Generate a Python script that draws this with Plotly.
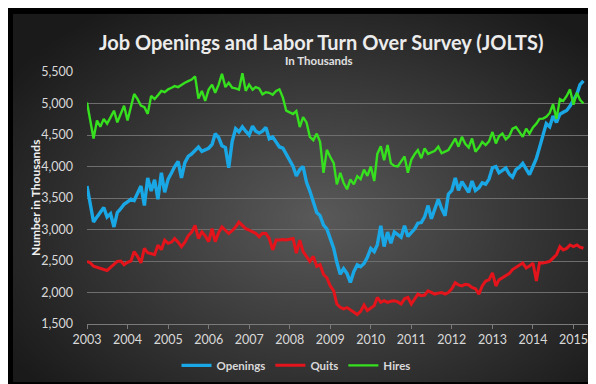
import base64, struct, zlib
import numpy as np
import pandas as pd
import plotly.graph_objects as go

# ---- data (thousands), monthly from Jan 2003 ----
openings = [
    3690, 3350, 3120, 3200, 3280, 3350, 3200, 3250, 3040, 3270, 3330, 3400,
    3440, 3480, 3460, 3590, 3690, 3380, 3820, 3610, 3790, 3480, 3900, 3590,
    3800, 3900, 4000, 4080, 3820, 4060, 4160, 4200, 4260, 4310, 4240, 4270,
    4290, 4350, 4520, 4460, 4330, 4300, 3980, 4400, 4600, 4550, 4630, 4560,
    4500, 4640, 4560, 4530, 4560, 4620, 4440, 4470, 4380, 4310, 4290, 4200,
    4100, 4000, 3850, 3950, 4000, 3750, 3610, 3450, 3270, 3220, 3070, 3010,
    2850, 2700, 2480, 2290, 2380, 2300, 2160, 2330, 2440, 2410, 2460, 2560,
    2700, 2650, 2760, 3060, 2730, 2960, 2780, 2960, 2920, 2880, 3060, 2890,
    2950, 3010, 3100, 3110, 3200, 3380, 3170, 3330, 3480, 3330, 3220, 3560,
    3620, 3820, 3620, 3760, 3680, 3590, 3770, 3620, 3660, 3740, 3720, 3800,
    3980, 4000, 3900, 3940, 3976, 3880, 3830, 3950, 3990, 4050, 3950, 3870,
    4000, 4130, 4300, 4520, 4680, 4630, 4800, 4700, 4830, 4860, 4890, 4960,
    5050, 5150, 5300, 5360,
]
quits = [
    2494, 2470, 2416, 2400, 2380, 2360, 2349, 2400, 2442, 2494, 2500, 2440,
    2480, 2500, 2650, 2572, 2470, 2700, 2630, 2620, 2600, 2750, 2680, 2830,
    2780, 2800, 2858, 2800, 2728, 2800, 2900, 2960, 3066, 2858, 2962, 2900,
    2806, 3014, 2806, 2950, 3040, 2988, 2936, 2980, 3040, 3118, 3060, 3014,
    2990, 2962, 2940, 2884, 2940, 2936, 2858, 2676, 2832, 2832, 2840, 2832,
    2840, 2858, 2624, 2830, 2650, 2560, 2494, 2572, 2416, 2442, 2286, 2234,
    2104, 2026, 1818, 1766, 1740, 1760, 1720, 1688, 1650, 1700, 1800, 1714,
    1760, 1792, 1922, 1844, 1870, 1844, 1860, 1870, 1850, 1818, 1900, 1922,
    1818, 1900, 1974, 1950, 1960, 2026, 2000, 1974, 1990, 2000, 1974, 2000,
    2060, 2156, 2120, 2104, 2130, 2120, 2080, 2060, 1974, 2104, 2182, 2200,
    2312, 2104, 2200, 2234, 2260, 2300, 2364, 2400, 2430, 2468, 2390, 2420,
    2468, 2182, 2470, 2468, 2480, 2494, 2546, 2600, 2728, 2676, 2700, 2754,
    2730, 2754, 2720, 2702,
]
hires = [
    5016, 4700, 4444, 4730, 4630, 4756, 4680, 4780, 4886, 4700, 4850, 4964,
    4730, 4950, 5150, 5070, 4965, 4940, 4835, 5120, 5070, 5130, 5200, 5180,
    5224, 5250, 5276, 5260, 5300, 5330, 5354, 5380, 5430, 5080, 5200, 5040,
    5220, 5300, 5170, 5300, 5470, 5260, 5330, 5250, 5240, 5220, 5480, 5200,
    5300, 5220, 5260, 5240, 5146, 5180, 5170, 5140, 5200, 5224, 5094, 4886,
    4860, 4834, 4880, 4626, 4782, 4700, 4470, 4418, 4522, 4392, 3900, 4264,
    4150, 4055, 3716, 3900, 3742, 3638, 3794, 3716, 3846, 3800, 3950, 3850,
    4000, 3770, 4200, 4320, 4100, 4340, 4050, 4010, 4000, 4080, 4160, 3900,
    4106, 4200, 4262, 4132, 4288, 4200, 4230, 4250, 4314, 4210, 4236, 4262,
    4350, 4444, 4314, 4470, 4360, 4300, 4444, 4236, 4300, 4392, 4340, 4400,
    4548, 4366, 4480, 4522, 4430, 4480, 4600, 4626, 4550, 4470, 4600, 4522,
    4620, 4680, 4756, 4760, 4790, 4850, 4990, 4756, 5070, 5040, 5120, 5224,
    4980, 5170, 5060, 5000,
]
series_names = ["Openings", "Quits", "Hires"]
start_month = "2003-01-01"
year_labels = [str(y) for y in range(2003, 2016)]
y_ticks = [1500, 2000, 2500, 3000, 3500, 4000, 4500, 5000, 5500]

months = pd.date_range(start_month, periods=len(openings), freq="MS")
year_ticks = [f"{y}-01-01" for y in year_labels]

# ---- background gradient image ----
def png_data_uri(arr):
    h, w, _ = arr.shape
    raw = b"".join(b"\x00" + arr[r].tobytes() for r in range(h))
    def chunk(tag, data):
        c = struct.pack(">I", len(data)) + tag + data
        return c + struct.pack(">I", zlib.crc32(tag + data) & 0xffffffff)
    png = (b"\x89PNG\r\n\x1a\n"
           + chunk(b"IHDR", struct.pack(">IIBBBBB", w, h, 8, 2, 0, 0, 0))
           + chunk(b"IDAT", zlib.compress(raw, 9))
           + chunk(b"IEND", b""))
    return "data:image/png;base64," + base64.b64encode(png).decode()

W, H = 294, 187
yy, xx = np.mgrid[0:H, 0:W]
u = (xx - W * 0.52) / (W * 0.64)
v = (yy - H * 0.55) / (H * 0.70)
d = np.clip(np.sqrt(u ** 2 + v ** 2), 0, 1)
val = 26 + (90 - 26) * (1 - d) ** 1.0
img = np.repeat(val[:, :, None], 3, axis=2).astype(np.uint8)
bg_uri = png_data_uri(img)

# page geometry (px)
FW, FH = 596, 384
L, R, T, B = 79, 16, 64, 64
pw, ph = FW - L - R, FH - T - B
def px(x): return (x - L) / pw
def py(y): return (FH - B - y) / ph

FONT = "Lato"
TXT = "#d9d9d9"

colors = ["#1aa7e6", "#e3141b", "#36e01e"]
widths = [3.4, 3.0, 2.4]
fig = go.Figure()
for name, vals, col, w in zip(series_names, [openings, quits, hires], colors, widths):
    fig.add_trace(go.Scatter(x=months, y=vals, name=f"<b>{name}</b>", mode="lines",
                             line=dict(color=col, width=w)))

fig.update_layout(
    width=FW, height=FH,
    margin=dict(l=L, r=R, t=T, b=B, pad=0),
    paper_bgcolor="#000000",
    plot_bgcolor="rgba(0,0,0,0)",
    font=dict(family=FONT, color=TXT, size=12),
    showlegend=True,
    legend=dict(orientation="h", x=px(288), xanchor="center", y=py(362), yanchor="middle",
                font=dict(family=FONT, size=11.5, color=TXT), bgcolor="rgba(0,0,0,0)",
                itemwidth=30, tracegroupgap=0),
    images=[dict(source=bg_uri, xref="paper", yref="paper",
                 x=px(5), y=py(5), sizex=(591 - 5) / pw, sizey=(379 - 5) / ph,
                 xanchor="left", yanchor="top", sizing="stretch", layer="below")],
    annotations=[
        dict(text="<b>Job Openings and Labor Turn Over Survey (JOLTS)</b>", xref="paper", yref="paper",
             x=px(313), y=py(34), xanchor="center", yanchor="middle", showarrow=False,
             font=dict(family=FONT, size=20, color="#ececec")),
        dict(text="<b>In Thousands</b>", xref="paper", yref="paper",
             x=px(311), y=py(52), xanchor="center", yanchor="middle", showarrow=False,
             font=dict(family=FONT, size=11.5, color="#e0e0e0")),
        dict(text="<b>Number in Thousands</b>", xref="paper", yref="paper",
             x=px(27), y=py(192), xanchor="center", yanchor="middle", showarrow=False,
             textangle=-90, font=dict(family=FONT, size=12, color="#f0f0f0")),
    ],
)
fig.update_xaxes(
    type="date", range=["2003-01-01", "2015-05-12"],
    tickvals=year_ticks, ticktext=year_labels,
    showgrid=False, zeroline=False,
    showline=True, linecolor="#7a7a7a", linewidth=1,
    ticks="outside", ticklen=4, tickcolor="#7a7a7a",
    tickfont=dict(family=FONT, size=12.5, color=TXT),
)
fig.update_yaxes(
    range=[1500, 5500], tickvals=y_ticks, tickformat=",",
    showgrid=True, gridcolor="#6e6e6e", gridwidth=1, zeroline=False,
    showline=False, ticks="", ticklabelstandoff=13,
    tickfont=dict(family=FONT, size=12.5, color=TXT),
)

fig.write_html("out.html")
